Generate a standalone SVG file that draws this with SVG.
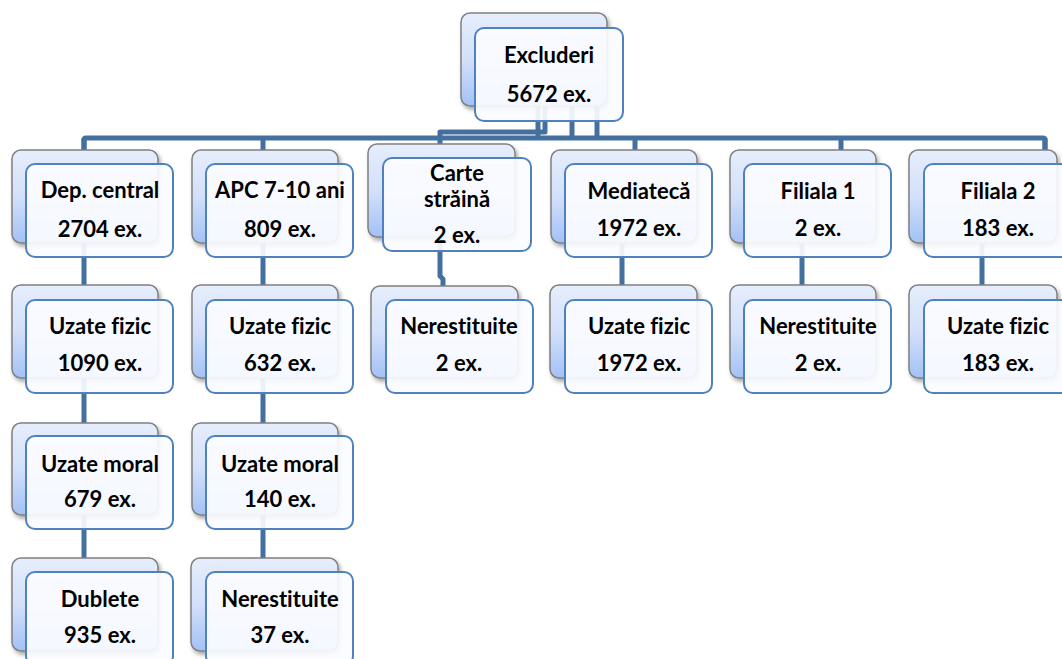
<svg xmlns="http://www.w3.org/2000/svg" width="1062" height="659" viewBox="0 0 1062 659">
<defs>
<linearGradient id="bg" x1="0" y1="0" x2="0" y2="1">
<stop offset="0" stop-color="#e6eefc"/>
<stop offset="0.5" stop-color="#d2e0fa"/>
<stop offset="1" stop-color="#a3c1f6"/>
</linearGradient>
<filter id="sh" x="-10%" y="-10%" width="125%" height="130%">
<feDropShadow dx="2" dy="3" stdDeviation="2" flood-color="#000" flood-opacity="0.35"/>
</filter>
<style>
.b{fill:url(#bg);stroke:#808080;stroke-width:1.5;filter:url(#sh)}
.f{fill:#fbfcff;fill-opacity:0.92;stroke:#4f81bd;stroke-width:2}
.t{font-family:Lato,"Liberation Sans",sans-serif;font-weight:bold;font-size:22px;fill:#000;text-anchor:middle;font-variant-ligatures:none;font-feature-settings:"liga" 0,"dlig" 0}
.c{fill:none;stroke:#44709f;stroke-width:5;stroke-linejoin:round}
</style>
</defs>
<rect width="1062" height="659" fill="#fff"/>
<g id="connectors" class="c">
<path d="M84,150 V140 Q84,138 86,138 H1043 Q1045,138 1045,140 V150"/>
<path d="M538,100 V138"/>
<path d="M572,100 V138"/>
<path d="M597,100 V138"/>
<path d="M545,100 V132 H440 V276 L443,279 V290"/>
<path d="M84,138 V560"/>
<path d="M263,138 V560"/>
<path d="M635,138 V200 H622 V288"/>
<path d="M841,138 V200 H802 V288"/>
<path d="M1045,138 V200 H982 V288"/>
</g>
<g id="n-top"><rect class="b" x="461" y="13" width="146" height="93" rx="9"/><rect class="f" x="475" y="28" width="148" height="93" rx="9"/><text class="t" x="549" y="63">Excluderi</text><text class="t" x="549" y="102">5672 ex.</text></g>
<g id="n-dep"><rect class="b" x="12" y="150" width="146" height="93" rx="9"/><rect class="f" x="26" y="164" width="147" height="93" rx="9"/><text class="t" x="100" y="198">Dep. central</text><text class="t" x="100" y="237">2704 ex.</text></g>
<g id="n-apc"><rect class="b" x="192" y="150" width="146" height="93" rx="9"/><rect class="f" x="206" y="164" width="147" height="93" rx="9"/><text class="t" x="280" y="198">APC 7-10 ani</text><text class="t" x="280" y="237">809 ex.</text></g>
<g id="n-carte"><rect class="b" x="368" y="144" width="147" height="93" rx="9"/><rect class="f" x="383" y="158" width="148" height="93" rx="9"/><text class="t" x="457" y="181">Carte</text><text class="t" x="457" y="207">străină</text><text class="t" x="457" y="243">2 ex.</text></g>
<g id="n-media"><rect class="b" x="551" y="150" width="146" height="93" rx="9"/><rect class="f" x="565" y="164" width="147" height="93" rx="9"/><text class="t" x="639" y="199">Mediatecă</text><text class="t" x="639" y="236">1972 ex.</text></g>
<g id="n-fil1"><rect class="b" x="730" y="150" width="146" height="93" rx="9"/><rect class="f" x="744" y="164" width="147" height="93" rx="9"/><text class="t" x="818" y="199">Filiala 1</text><text class="t" x="818" y="236">2 ex.</text></g>
<g id="n-fil2"><rect class="b" x="909" y="150" width="148" height="93" rx="9"/><rect class="f" x="924" y="164" width="147" height="93" rx="9"/><text class="t" x="998" y="199">Filiala 2</text><text class="t" x="998" y="236">183 ex.</text></g>
<g id="n-dep-fizic"><rect class="b" x="12" y="285" width="146" height="93" rx="9"/><rect class="f" x="26" y="300" width="147" height="93" rx="9"/><text class="t" x="100" y="334">Uzate fizic</text><text class="t" x="100" y="371">1090 ex.</text></g>
<g id="n-apc-fizic"><rect class="b" x="192" y="285" width="146" height="93" rx="9"/><rect class="f" x="206" y="300" width="147" height="93" rx="9"/><text class="t" x="280" y="334">Uzate fizic</text><text class="t" x="280" y="371">632 ex.</text></g>
<g id="n-carte-ner"><rect class="b" x="371" y="286" width="147" height="92" rx="9"/><rect class="f" x="386" y="300" width="147" height="93" rx="9"/><text class="t" x="459" y="334">Nerestituite</text><text class="t" x="459" y="371">2 ex.</text></g>
<g id="n-media-fizic"><rect class="b" x="550" y="285" width="147" height="93" rx="9"/><rect class="f" x="565" y="300" width="147" height="93" rx="9"/><text class="t" x="639" y="334">Uzate fizic</text><text class="t" x="639" y="371">1972 ex.</text></g>
<g id="n-fil1-ner"><rect class="b" x="730" y="285" width="146" height="93" rx="9"/><rect class="f" x="744" y="300" width="147" height="93" rx="9"/><text class="t" x="818" y="334">Nerestituite</text><text class="t" x="818" y="371">2 ex.</text></g>
<g id="n-fil2-fizic"><rect class="b" x="909" y="285" width="148" height="93" rx="9"/><rect class="f" x="924" y="300" width="147" height="93" rx="9"/><text class="t" x="998" y="334">Uzate fizic</text><text class="t" x="998" y="371">183 ex.</text></g>
<g id="n-dep-moral"><rect class="b" x="12" y="423" width="146" height="92" rx="9"/><rect class="f" x="26" y="436" width="147" height="93" rx="9"/><text class="t" x="100" y="472">Uzate moral</text><text class="t" x="100" y="507">679 ex.</text></g>
<g id="n-apc-moral"><rect class="b" x="192" y="423" width="146" height="92" rx="9"/><rect class="f" x="206" y="436" width="147" height="93" rx="9"/><text class="t" x="280" y="472">Uzate moral</text><text class="t" x="280" y="507">140 ex.</text></g>
<g id="n-dep-dublete"><rect class="b" x="12" y="558" width="146" height="93" rx="9"/><rect class="f" x="26" y="572" width="147" height="93" rx="9"/><text class="t" x="100" y="607">Dublete</text><text class="t" x="100" y="643">935 ex.</text></g>
<g id="n-apc-ner"><rect class="b" x="191" y="558" width="147" height="93" rx="9"/><rect class="f" x="206" y="572" width="147" height="93" rx="9"/><text class="t" x="280" y="607">Nerestituite</text><text class="t" x="280" y="643">37 ex.</text></g>
</svg>
